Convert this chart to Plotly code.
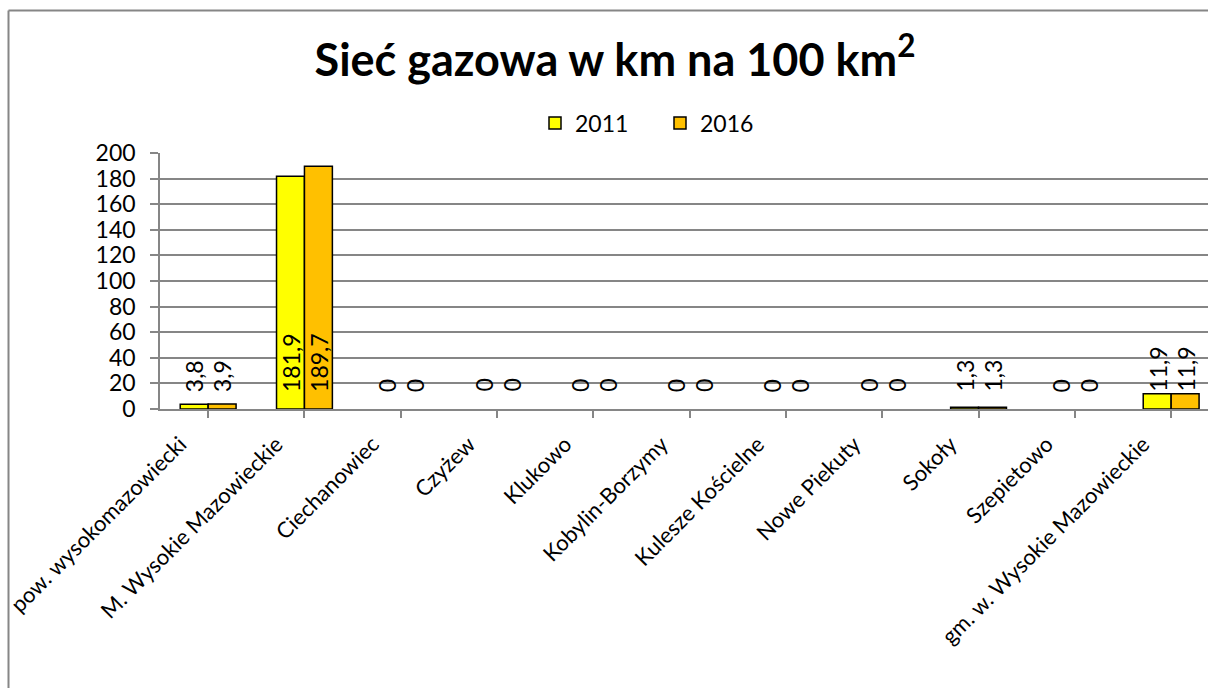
import plotly.graph_objects as go

# Gas network density (km per 100 km²) by unit
categories = [
    "pow. wysokomazowiecki",
    "M. Wysokie Mazowieckie",
    "Ciechanowiec",
    "Czyżew",
    "Klukowo",
    "Kobylin-Borzymy",
    "Kulesze Kościelne",
    "Nowe Piekuty",
    "Sokoły",
    "Szepietowo",
    "gm. w. Wysokie Mazowieckie",
]
values_2011 = [3.8, 181.9, 0, 0, 0, 0, 0, 0, 1.3, 0, 11.9]
values_2016 = [3.9, 189.7, 0, 0, 0, 0, 0, 0, 1.3, 0, 11.9]
series_names = ["2011", "2016"]
series_colors = ["#FFFF00", "#FFC000"]

FONT = "Lato, Carlito, 'Open Sans', sans-serif"
GRID = "#868686"

W, H = 1208, 688
ML, MR, MT, MB = 160, 0, 153, 279
CAT_PX = 96.3  # pixel width of one category slot


def fmt(v):
    if float(v).is_integer():
        return str(int(v))
    return f"{v:.1f}".replace(".", ",")


fig = go.Figure()
for name, vals, col in zip(series_names, [values_2011, values_2016], series_colors):
    fig.add_trace(go.Bar(
        x=list(range(len(categories))),
        y=vals,
        name=name,
        marker=dict(
            color=col,
            # no outline on empty bars
            line=dict(color="#000000", width=[1.5 if v > 0 else 0 for v in vals]),
        ),
    ))

# Value labels, rotated, anchored just above the baseline of each bar
bar_w = 0.29
annotations = []
for j, vals in enumerate([values_2011, values_2016]):
    off = (j - 0.5) * bar_w
    for i, v in enumerate(vals):
        annotations.append(dict(
            x=i + off, y=0, xref="x", yref="y",
            text=fmt(v), showarrow=False, textangle=-90,
            xanchor="center", yanchor="bottom", yshift=15,
            font=dict(family=FONT, size=23, color="#000000"),
        ))

plot_w = W - ML - MR
plot_h = H - MT - MB

# Outer chart frame (left and top edges visible)
frame_left = (8.5 - ML) / plot_w
frame_top = (H - MB - 10.5) / plot_h
shapes = [
    dict(type="line", xref="paper", yref="paper",
         x0=frame_left, x1=1.0, y0=frame_top, y1=frame_top,
         line=dict(color=GRID, width=2)),
    dict(type="line", xref="paper", yref="paper",
         x0=frame_left, x1=frame_left, y0=frame_top, y1=-2,
         line=dict(color=GRID, width=2)),
]

fig.update_layout(
    width=W, height=H,
    margin=dict(l=ML, r=MR, t=MT, b=MB, pad=0),
    paper_bgcolor="#FFFFFF", plot_bgcolor="#FFFFFF",
    barmode="group", bargap=0.42, bargroupgap=0,
    title=dict(
        text="<b>Sieć gazowa w km na 100 km<sup>2</sup></b>",
        x=(615 - ML) / plot_w, xref="paper", xanchor="center",
        y=1 - 60 / H, yanchor="middle",
        font=dict(family=FONT, size=45, color="#000000"),
    ),
    legend=dict(
        orientation="h", x=(660 - ML) / plot_w, xanchor="center",
        y=(H - MB - 123) / plot_h, yanchor="middle",
        font=dict(family=FONT, size=23, color="#000000"),
        itemwidth=30, entrywidth=80, traceorder="normal",
        bgcolor="rgba(0,0,0,0)",
    ),
    xaxis=dict(
        range=[-0.5, -0.5 + plot_w / CAT_PX],
        tickmode="array",
        tickvals=list(range(len(categories))),
        ticktext=categories,
        tickangle=-45,
        tickson="boundaries",
        ticks="outside", ticklen=7, tickcolor=GRID, tickwidth=1.5,
        showline=True, linecolor=GRID, linewidth=1.5,
        showgrid=False, zeroline=False,
        tickfont=dict(family=FONT, size=22, color="#000000"),
        ticklabelshift=-28, ticklabelstandoff=5,
    ),
    yaxis=dict(
        range=[0, 200], dtick=20, tick0=0,
        ticks="outside", ticklen=8, tickcolor=GRID, tickwidth=1.5,
        showline=True, linecolor=GRID, linewidth=1.5,
        showgrid=True, gridcolor=GRID, gridwidth=1.5,
        zeroline=False,
        tickfont=dict(family=FONT, size=23, color="#000000"),
        ticklabelstandoff=10,
    ),
    annotations=annotations,
    shapes=shapes,
    showlegend=True,
)

fig.write_html("out.html", config={"displayModeBar": False})
